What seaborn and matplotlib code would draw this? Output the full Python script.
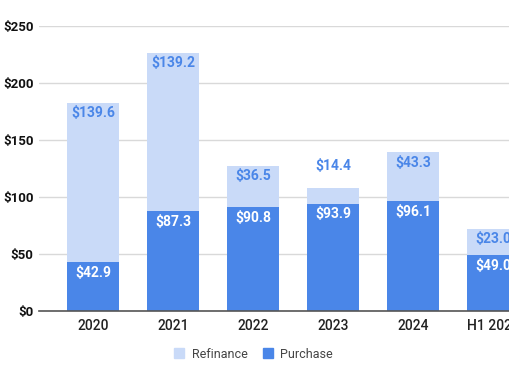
import matplotlib
matplotlib.use("Agg")
import matplotlib.pyplot as plt
import seaborn as sns
import pandas as pd
from matplotlib.lines import Line2D

categories = ["2020", "2021", "2022", "2023", "2024", "H1 2025"]
purchase = [42.9, 87.3, 90.8, 93.9, 96.1, 49.0]
refinance = [139.6, 139.2, 36.5, 14.4, 43.3, 23.0]
y_ticks = [0, 50, 100, 150, 200, 250]

C_PUR = "#4a86e8"
C_REF = "#c9daf8"

sns.set_theme(style="white")
plt.rcParams["font.family"] = ["Roboto", "DejaVu Sans"]

df = pd.DataFrame({"cat": categories, "Purchase": purchase, "Refinance": refinance})

fig = plt.figure(figsize=(5.10, 3.82), dpi=100)
ax = fig.add_axes([39 / 510, 71 / 382, 508 / 510, 285 / 382])

sns.barplot(data=df, x="cat", y="Purchase", color=C_PUR, width=0.65, ax=ax,
            saturation=1, zorder=3, linewidth=0)
sns.barplot(data=df, x="cat", y="Refinance", bottom=df["Purchase"], color=C_REF,
            width=0.65, ax=ax, saturation=1, zorder=3, linewidth=0)

for i, (p, r) in enumerate(zip(purchase, refinance)):
    ax.text(i, p - 3.0, f"${p:.1f}", ha="center", va="top", color="white",
            fontsize=10, fontweight="bold", zorder=5)
    if r >= 20:
        ax.text(i, p + r - 3.0, f"${r:.1f}", ha="center", va="top", color=C_PUR,
                fontsize=10, fontweight="bold", zorder=5)
    else:
        ax.text(i, p + r + 18.5, f"${r:.1f}", ha="center", va="center", color=C_PUR,
                fontsize=10, fontweight="bold", zorder=5)

ax.set_xlim(-0.675, 5.675)
ax.set_ylim(0, 250)
ax.set_yticks(y_ticks)
ax.set_yticklabels([f"${v}" for v in y_ticks], fontsize=9.5, fontweight="bold", color="#111111")
ax.set_xticks(range(len(categories)))
ax.set_xticklabels(categories, fontsize=10, fontweight="medium", color="#222222")
ax.tick_params(axis="y", length=0, pad=4)
ax.tick_params(axis="x", length=0, pad=6)
ax.set_xlabel("")
ax.set_ylabel("")
ax.yaxis.grid(True, color="#d9d9d9", linewidth=1, zorder=0)
ax.set_axisbelow(True)
for s in ["top", "right", "left"]:
    ax.spines[s].set_visible(False)
ax.spines["bottom"].set_color("#555555")
ax.spines["bottom"].set_linewidth(1.2)
ax.spines["bottom"].set_zorder(6)

handles = [Line2D([], [], marker="s", linestyle="", markersize=7, markerfacecolor=C_REF,
                  markeredgecolor=C_REF, label="Refinance"),
           Line2D([], [], marker="s", linestyle="", markersize=7, markerfacecolor=C_PUR,
                  markeredgecolor=C_PUR, label="Purchase")]
fig.legend(handles=handles, loc="center", bbox_to_anchor=(0.49, 28 / 382), ncol=2,
           frameon=False, fontsize=9, handletextpad=0.0, columnspacing=0.6,
           labelcolor="#444444")

fig.savefig("out.png", dpi=100)
